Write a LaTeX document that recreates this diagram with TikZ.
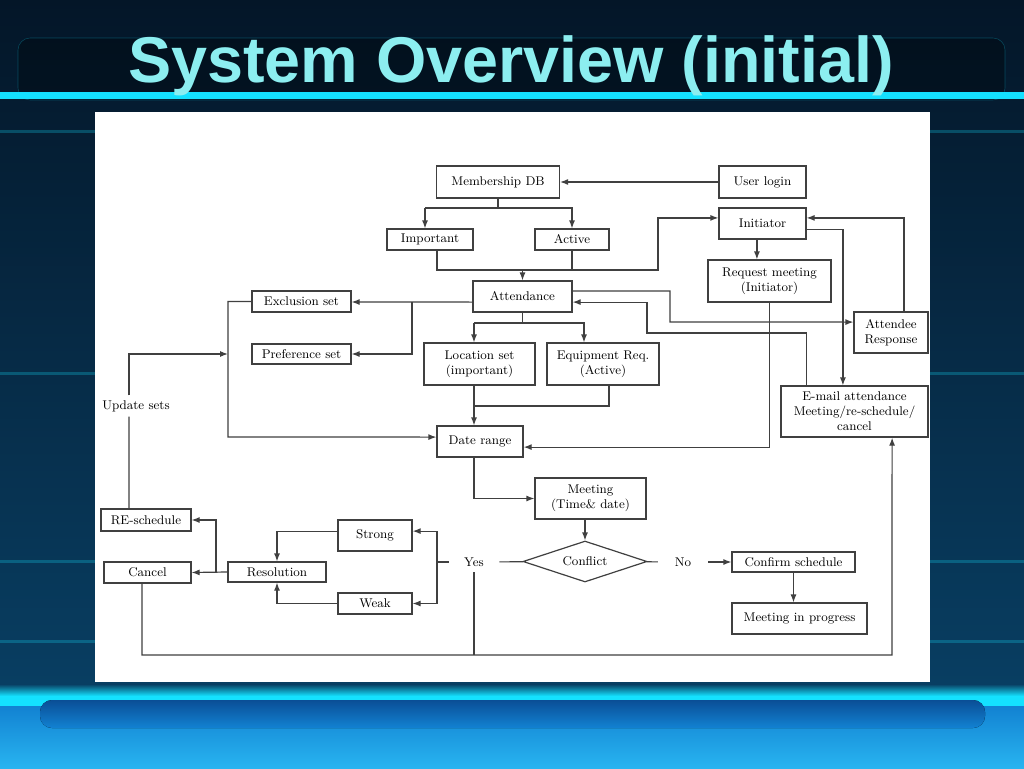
\documentclass[tikz,border=0pt]{standalone}
\usepackage{fontspec}
\usepackage{xcolor}
\usepackage{tikz}
\usetikzlibrary{positioning,arrows.meta,shapes.geometric}
\newfontfamily\titlefont{Liberation Sans}
\newcommand{\dgfont}{\fontsize{9}{10.7}\selectfont}
\definecolor{bgtop}{RGB}{4,22,40}
\definecolor{bgmid}{RGB}{8,62,98}
\definecolor{glow}{RGB}{20,225,255}
\definecolor{glowhi}{RGB}{200,255,255}
\definecolor{skyA}{RGB}{18,130,210}
\definecolor{skyB}{RGB}{40,180,240}
\definecolor{bandD}{RGB}{10,78,150}
\definecolor{ttlcyan}{RGB}{140,238,240}

\begin{document}
\begin{tikzpicture}[x=0.25mm, y=-0.25mm,
  box/.style={draw=black!75, line width=0.3mm, fill=white, align=center,
              inner sep=1pt, font=\dgfont},
  sz/.style 2 args={minimum width=#1mm, minimum height=#2mm},
  lbl/.style={font=\dgfont, inner sep=1pt},
  ln/.style={line width=0.3mm, black!75},
  arr/.style={-{Latex[length=2mm,width=1.5mm]}, line width=0.3mm, black!75},
  ttl/.style={font=\titlefont\bfseries\fontsize{46}{52}\selectfont,
              text=ttlcyan, inner sep=0pt}]
  \useasboundingbox (0,0) rectangle (1024,768);
  % backdrop
  \fill[top color=bgtop, bottom color=bgmid] (0,0) rectangle (1024,684);
  \fill[black, opacity=0.3, rounded corners=3mm] (18,38) rectangle (1005,100);
  \draw[glow, opacity=0.25, rounded corners=3mm] (18,38) rectangle (1005,100);
  \fill[left color=glow, middle color=glowhi, right color=glow] (0,92) rectangle (1024,98);
  \foreach \yy in {130,372,560,640} {
    \fill[glow, opacity=0.25] (0,\yy) rectangle (95,\yy+3);
    \fill[glow, opacity=0.25] (930,\yy) rectangle (1024,\yy+3);
  }
  \fill[top color=bgmid, bottom color=glow] (0,684) rectangle (1024,696);
  \fill[left color=glow, middle color=glowhi, right color=glow] (0,696) rectangle (1024,706);
  \fill[top color=skyA, bottom color=skyB] (0,706) rectangle (1024,768);
  \fill[top color=bandD, bottom color=skyA, rounded corners=3mm] (40,700) rectangle (985,728);
  \fill[white] (95,112) rectangle (930,682);
  \node[ttl] (title) at (511,66) {System Overview (initial)};

  % boxes
  \node[box, sz={30.75}{8}] (mdb) at (498,182) {Membership DB};
  \node[box, sz={21.75}{8}] (ulog) at (762.5,182) {User login};
  \node[box, sz={21.5}{5.25}] (imp) at (430,239.5) {Important};
  \node[box, sz={18.5}{5.25}] (act) at (572,239.5) {Active};
  \node[box, sz={21.75}{7.75}] (ini) at (762.5,223.5) {Initiator};
  \node[box, sz={30.75}{10.5}] (req) at (769.5,281) {Request meeting\\(Initiator)};
  \node[box, sz={24.75}{7.75}] (att) at (522.5,296.5) {Attendance};
  \node[box, sz={24.75}{5.25}] (excl) at (301.5,301.5) {Exclusion set};
  \node[box, sz={24.75}{5}] (pref) at (301.5,354) {Preference set};
  \node[box, sz={27.75}{10.5}] (loc) at (479.5,364) {Location set\\(important)};
  \node[box, sz={28}{10.5}] (equip) at (603,364) {Equipment Req.\\(Active)};
  \node[box, sz={18.5}{10.25}] (resp) at (891,332.5) {Attendee\\Response};
  \node[box, sz={36.75}{12.75}] (email) at (854.5,411.5) {E-mail attendance\\Meeting/re-schedule/\\cancel};
  \node[box, sz={21.5}{7.75}] (date) at (480,441.5) {Date range};
  \node[box, sz={27.75}{10.25}] (meet) at (590.5,498.5) {Meeting\\(Time\& date)};
  \node[box, diamond, aspect=3, inner sep=0pt, sz={31}{10.25}] (confl) at (585,561.5) {Conflict};
  \node[box, sz={30.75}{5}] (confirm) at (793.5,562) {Confirm schedule};
  \node[box, sz={33.75}{7.75}] (prog) at (799.5,618.5) {Meeting in progress};
  \node[box, sz={22.5}{5.5}] (resched) at (146,520) {RE-schedule};
  \node[box, sz={21.75}{5.25}] (cancel) at (147.5,572.5) {Cancel};
  \node[box, sz={24.5}{5}] (resol) at (277,572) {Resolution};
  \node[box, sz={18.5}{7.75}] (strong) at (375,535.5) {Strong};
  \node[box, sz={18.5}{5.25}] (weak) at (375,603.5) {Weak};
  \node[lbl, inner xsep=3.8mm, inner ysep=1.4mm] (yes) at (474,562) {Yes};
  \node[lbl, inner xsep=4.2mm] (no) at (683,562) {No};
  \node[lbl, inner ysep=1.2mm] (upd) at (136,406) {Update sets};

  % joints
  \coordinate (mdbL) at (425,208);
  \coordinate (mdbR) at (572,208);
  \coordinate (jA) at (658,270);
  \coordinate (jB) at (670,322);
  \coordinate (jC) at (647,333);
  \coordinate (jD) at (412,302);
  \coordinate (jE) at (228,437);
  \coordinate (jF) at (129,354);
  \coordinate (jG) at (437,562);
  \coordinate (attL) at (474,323);
  \coordinate (attR) at (584,323);
  \coordinate (jI) at (474,406);
  \coordinate (jJ) at (216,572);
  \coordinate (jBot) at (892,655);

  % connectors
  \draw[arr] (ulog) -- (mdb);
  \draw[ln] (mdb.south) -- (mdb.south |- mdbL);
  \draw[arr] (mdbL) -- (mdbL |- imp.north);
  \draw[arr] (mdbL) -- (mdbR) -- (act.north);
  \draw[arr] ([xshift=1.75mm]imp.south) |- (jA) |- ([yshift=1.4mm]ini.west);
  \draw[ln] (act.south) -- (act.south |- jA);
  \draw[arr] (att.north |- jA) -- (att.north);
  \draw[arr] ([xshift=-1.4mm]ini.south) -- ([xshift=-1.4mm]ini.south |- req.north);
  \draw[arr] ([yshift=-1.4mm]ini.east) -| ([xshift=-2.9mm]email.north);
  \draw[arr] ([xshift=3.25mm]resp.north) |- ([yshift=1.4mm]ini.east);
  \draw[arr] (req.south) |- ([yshift=-1.4mm]date.east);
  \draw[arr] ([yshift=1.4mm]att.east) -| (jB) -- ([yshift=2.6mm]resp.west);
  \draw[arr] ([xshift=-12.1mm]email.north) |- (jC) |- ([yshift=-1.4mm]att.east);
  \draw[arr] ([yshift=-1.4mm]att.west) -- (jD) -- (jD -| excl.east);
  \draw[arr] (jD) |- (pref.east);
  \draw[arr] (excl.west) -| (jE) -- ([yshift=1.1mm]date.west);
  \draw[ln] ([xshift=-4.25mm]resched.north) -- (jF |- upd.south);
  \draw[arr] (jF |- upd.north) -- (jF) -- (jE |- pref.west);
  \draw[ln] (att.south) -- (att.south |- attL);
  \draw[arr] (attL) -- (attL |- loc.north);
  \draw[arr] (attL) -- (attR) -- (attR |- equip.north);
  \draw[arr] (attL |- loc.south) -- (attL |- date.north);
  \draw[ln] ([xshift=1.5mm]equip.south) |- (jI);
  \draw[arr] ([xshift=-1.5mm]date.south) |- (meet.west);
  \draw[arr] (confl.north |- meet.south) -- (confl.north);
  \draw[ln] (yes) -- (confl);
  \draw[ln] (yes.west) -- (jG);
  \draw[arr] (jG) |- ([yshift=1.1mm]strong.east);
  \draw[arr] (jG) |- (weak.east);
  \draw[ln] (confl) -- (no);
  \draw[arr] (no) -- (confirm);
  \draw[arr] (confirm.south) -- (confirm.south |- prog.north);
  \draw[arr] (resol.west) -- (cancel.east);
  \draw[arr] (jJ) |- (resched.east);
  \draw[arr] ([yshift=1.1mm]strong.west) -| (resol.north);
  \draw[arr] (weak.west) -| (resol.south);
  \draw[arr] ([xshift=-1.4mm]cancel.south) |- (jBot) -- ([xshift=9.4mm]email.south);
  \draw[ln] (yes.south) -- (yes.south |- jBot);
\end{tikzpicture}
\end{document}
